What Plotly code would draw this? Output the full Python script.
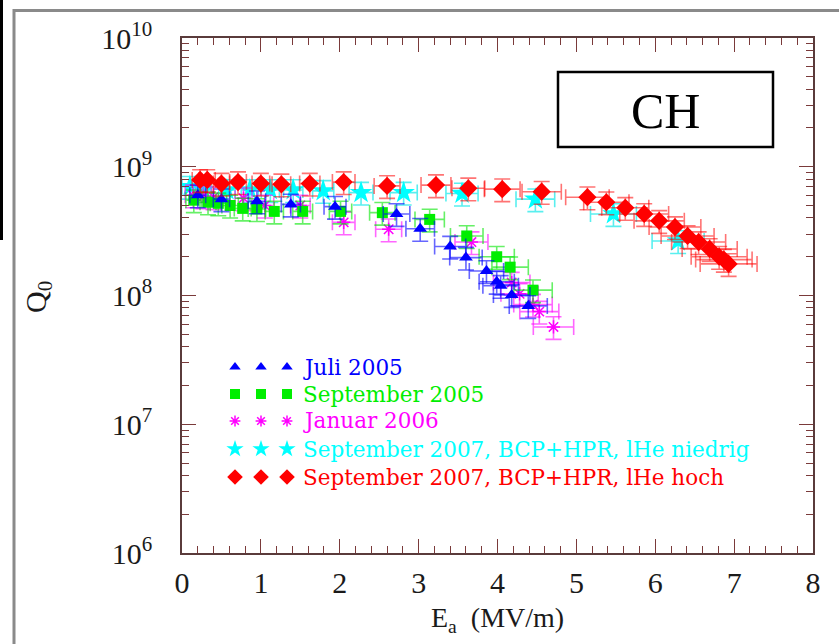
import numpy as np
import plotly.graph_objects as go

# ---- data ----
juli_E = [0.20, 0.50, 0.95, 1.38, 1.94, 2.72, 3.02, 3.40, 3.60, 3.86, 3.99, 4.04, 4.18, 4.39]
juli_Q = [6.0e8, 5.6e8, 5.4e8, 5.1e8, 4.9e8, 4.3e8, 3.3e8, 2.4e8, 1.97e8, 1.55e8, 1.28e8, 1.19e8, 1.01e8, 8.3e7]

sep05_E = [0.15, 0.33, 0.46, 0.61, 0.77, 0.95, 1.17, 1.53, 2.01, 2.54, 3.14, 3.61, 3.99, 4.16, 4.45]
sep05_Q = [5.5e8, 5.3e8, 5.2e8, 5.0e8, 4.75e8, 4.7e8, 4.5e8, 4.5e8, 4.5e8, 4.4e8, 3.9e8, 2.9e8, 2.0e8, 1.66e8, 1.1e8]

jan06_E = [0.14, 0.27, 0.40, 0.78, 1.05, 1.50, 2.05, 2.62, 3.67, 4.18, 4.28, 4.45, 4.53, 4.71]
jan06_Q = [6.0e8, 5.9e8, 5.8e8, 5.7e8, 5.0e8, 5.0e8, 3.7e8, 3.27e8, 2.6e8, 1.26e8, 1.03e8, 8.5e7, 7.5e7, 5.7e7]

sep07n_E = [0.10, 0.27, 0.57, 0.86, 1.12, 1.41, 1.79, 2.27, 2.81, 3.55, 4.48, 5.47, 6.29]
sep07n_Q = [7.0e8, 6.6e8, 6.6e8, 6.6e8, 6.6e8, 6.6e8, 6.5e8, 6.3e8, 6.3e8, 6.2e8, 5.6e8, 4.3e8, 2.65e8]

sep07h_E = [0.23, 0.32, 0.50, 0.71, 1.00, 1.26, 1.62, 2.05, 2.60, 3.22, 3.63, 4.06, 4.56,
            5.14, 5.38, 5.62, 5.86, 6.05, 6.25, 6.41, 6.55, 6.69, 6.81, 6.87, 6.93]
sep07h_Q = [7.9e8, 7.9e8, 7.4e8, 7.6e8, 7.4e8, 7.3e8, 7.4e8, 7.6e8, 7.1e8, 7.2e8, 6.8e8, 6.7e8, 6.4e8,
            5.8e8, 5.3e8, 4.8e8, 4.3e8, 3.8e8, 3.4e8, 2.9e8, 2.6e8, 2.3e8, 2.0e8, 1.9e8, 1.76e8]

series_names = ["Juli 2005", "September 2005", "Januar 2006",
                "September 2007, BCP+HPR, lHe niedrig", "September 2007, BCP+HPR, lHe hoch"]
x_ticks = [0, 1, 2, 3, 4, 5, 6, 7, 8]
y_decades = [6, 7, 8, 9, 10]

# ---- figure geometry ----
W, H = 839, 644
L, R, T, B = 182, 813, 38, 553   # plot area in px


def px_x(px):
    return (px - L) / (R - L)


def px_y(py):
    return (B - py) / (B - T)


def err_x(E):
    E = np.asarray(E, dtype=float)
    return np.sqrt(0.1 ** 2 + (0.05 * E) ** 2)


styles = [
    dict(E=juli_E, Q=juli_Q, color="#0000ff", err="rgba(0,0,255,0.6)",
         marker=dict(symbol="triangle-up", size=12)),
    dict(E=sep05_E, Q=sep05_Q, color="#00ee00", err="rgba(0,230,0,0.6)",
         marker=dict(symbol="square", size=11)),
    dict(E=jan06_E, Q=jan06_Q, color="#ff00ff", err="rgba(255,0,255,0.6)",
         marker=dict(symbol="asterisk-open", size=11, line=dict(width=1.5))),
    dict(E=sep07n_E, Q=sep07n_Q, color="#00ffff", err="rgba(0,230,230,0.65)",
         marker=dict(symbol="star", size=17)),
    dict(E=sep07h_E, Q=sep07h_Q, color="#ff0000", err="rgba(255,0,0,0.55)",
         marker=dict(symbol="diamond", size=14)),
]

draw_order = [3, 2, 1, 0, 4]

fig = go.Figure()
for i in draw_order:
    s = styles[i]
    m = dict(s["marker"])
    m["color"] = s["color"]
    if "line" in m:
        m["line"] = dict(m["line"], color=s["color"])
    else:
        m["line"] = dict(width=0)
    fig.add_trace(go.Scatter(
        x=s["E"], y=s["Q"], mode="markers", name=series_names[i],
        marker=m, showlegend=False,
        error_x=dict(type="data", array=err_x(s["E"]), color=s["err"], thickness=1.6, width=8),
        error_y=dict(type="percent", value=20, color=s["err"], thickness=1.6, width=8),
    ))

# ---- hand-built legend (three symbols per row, coloured text) ----
row_py = [367, 394, 421, 449, 477]
sym_px = [235, 261, 287]
leg_sizes = [10, 10, 9, 13, 12]
for i, s in enumerate(styles):
    m = dict(s["marker"])
    m["size"] = leg_sizes[i]
    m["color"] = s["color"]
    if "line" in m:
        m["line"] = dict(m["line"], color=s["color"])
    else:
        m["line"] = dict(width=0)
    fig.add_trace(go.Scatter(
        x=[px_x(p) for p in sym_px], y=[px_y(row_py[i])] * 3,
        xaxis="x2", yaxis="y2", mode="markers", marker=m,
        showlegend=False, hoverinfo="skip"))
    fig.add_annotation(
        x=px_x(301), y=px_y(row_py[i]), xref="paper", yref="paper",
        text=series_names[i], showarrow=False, xanchor="left", yanchor="middle",
        font=dict(family="DejaVu Serif", size=21.5, color=s["color"]))

# ---- CH box ----
fig.add_shape(type="rect", xref="paper", yref="paper",
              x0=px_x(558), x1=px_x(773), y0=px_y(147), y1=px_y(72),
              line=dict(color="black", width=2.5), fillcolor="white", layer="below")
fig.add_annotation(x=px_x(665.5), y=px_y(111), xref="paper", yref="paper", text="CH",
                   showarrow=False, xanchor="center", yanchor="middle",
                   font=dict(family="Liberation Serif", size=50, color="black"))

# ---- axis titles ----
title_font = dict(family="Liberation Serif", size=28, color="#1a1a1a")
fig.add_annotation(x=px_x(497), y=px_y(619), xref="paper", yref="paper",
                   text="E<sub>a</sub>  (MV/m)", showarrow=False,
                   xanchor="center", yanchor="middle", font=title_font)
fig.add_annotation(x=px_x(38), y=px_y(297), xref="paper", yref="paper",
                   text="Q<sub>0</sub>", showarrow=False, textangle=-90,
                   xanchor="center", yanchor="middle",
                   font=dict(family="Liberation Serif", size=30, color="#1a1a1a"))

# ---- screenshot frame ----
fig.add_shape(type="line", xref="paper", yref="paper",
              x0=px_x(13), x1=px_x(845), y0=px_y(10.5), y1=px_y(10.5),
              line=dict(color="#8a8a8a", width=3))
fig.add_shape(type="line", xref="paper", yref="paper",
              x0=px_x(14), x1=px_x(14), y0=px_y(9), y1=px_y(650),
              line=dict(color="#8a8a8a", width=3))
fig.add_shape(type="rect", xref="paper", yref="paper",
              x0=px_x(-1), x1=px_x(3), y0=px_y(240), y1=px_y(-2),
              line=dict(width=0), fillcolor="black")

axis_line = "#5a3b3b"
tick_col = "#7a3a3a"
tick_font = dict(family="Liberation Serif", size=30, color="#1a1a1a")

minor_y = [m * 10 ** d for d in y_decades[:-1] for m in range(2, 10)]

fig.update_layout(
    width=W, height=H,
    margin=dict(l=L, r=W - R, t=T, b=H - B),
    paper_bgcolor="white", plot_bgcolor="white",
    showlegend=False,
    xaxis=dict(
        range=[0, 8], tickvals=x_ticks, ticktext=[str(v) for v in x_ticks],
        ticks="inside", ticklen=14, tickwidth=1.3, tickcolor=tick_col,
        minor=dict(dtick=0.2, ticks="inside", ticklen=7, tickwidth=1.2, tickcolor=tick_col, showgrid=False),
        showline=True, linecolor=axis_line, linewidth=1.5, mirror="ticks",
        showgrid=False, zeroline=False, tickfont=tick_font, ticklabelstandoff=2,
    ),
    yaxis=dict(
        type="log", range=[6, 10],
        tickvals=[10 ** d for d in y_decades],
        ticktext=["10<sup>%d</sup>" % d for d in y_decades],
        ticks="inside", ticklen=14, tickwidth=1.3, tickcolor=tick_col,
        minor=dict(tickvals=minor_y, ticks="inside", ticklen=7, tickwidth=1.2, tickcolor=tick_col, showgrid=False),
        showline=True, linecolor=axis_line, linewidth=1.5, mirror="ticks",
        showgrid=False, zeroline=False, tickfont=tick_font, ticklabelstandoff=22,
    ),
    xaxis2=dict(range=[0, 1], overlaying="x", visible=False, fixedrange=True),
    yaxis2=dict(range=[0, 1], overlaying="y", visible=False, fixedrange=True),
)

fig.write_html("out.html")
